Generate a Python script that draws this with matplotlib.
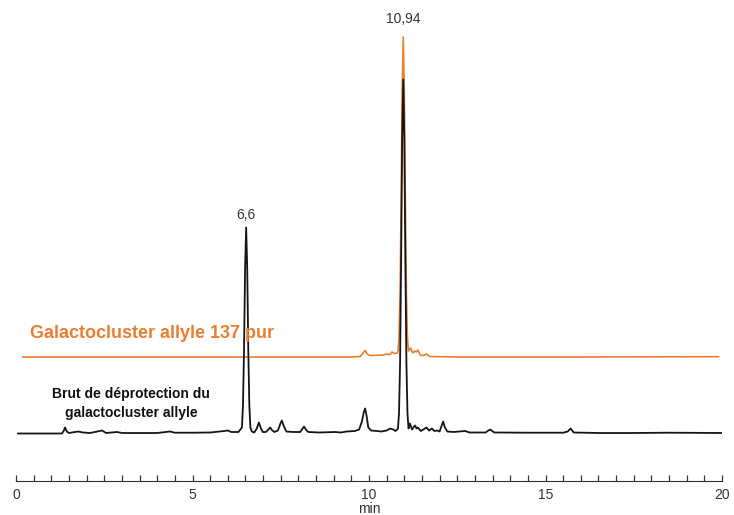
import numpy as np
import matplotlib
matplotlib.use("Agg")
import matplotlib.pyplot as plt

plt.rcParams["font.family"] = ["Liberation Sans", "DejaVu Sans"]

# Brut de déprotection (black trace): retention time (min), signal
brut_t = [0.06, 1.30, 1.35, 1.39, 1.44, 1.50, 1.76, 1.90, 2.10, 2.44, 2.55, 2.86, 3.00, 3.50, 4.00,
          4.36, 4.50, 5.00, 5.50, 5.90, 6.00, 6.10, 6.30,
          6.40, 6.43, 6.46, 6.49, 6.52, 6.55, 6.58, 6.61, 6.64, 6.68,
          6.75, 6.82, 6.88, 6.94, 6.99, 7.08, 7.15, 7.20, 7.26, 7.32, 7.42, 7.48, 7.53, 7.59, 7.66,
          7.85, 8.05, 8.11, 8.16, 8.21, 8.28, 8.60, 9.04, 9.20, 9.37, 9.60,
          9.72, 9.80, 9.85, 9.89, 9.93, 9.98, 10.06,
          10.22, 10.35, 10.50, 10.60, 10.69, 10.75, 10.80,
          10.82, 10.85, 10.88, 10.91, 10.94, 10.97, 11.00, 11.03, 11.06, 11.09, 11.12,
          11.16, 11.22, 11.30, 11.35, 11.38, 11.47, 11.63, 11.70, 11.78, 11.85,
          11.93, 12.00, 12.05, 12.10, 12.15, 12.22, 12.40, 12.72, 12.85, 13.30, 13.43, 13.55,
          14.50, 15.50, 15.63, 15.71, 15.80, 16.50, 17.50, 18.50, 19.99]
brut_y = [0.0, 0.0, 2.5, 6.0, 2.0, 0.5, 2.0, 1.0, 0.5, 3.0, 0.5, 1.5, 0.5, 0.5, 0.5,
          2.0, 0.8, 0.8, 1.0, 2.5, 3.0, 1.5, 1.5,
          6.0, 28.0, 85.0, 165.0, 206.0, 165.0, 85.0, 28.0, 6.0, 2.0,
          1.0, 5.0, 11.0, 5.0, 1.5, 1.5, 4.0, 6.0, 3.0, 1.5, 3.0, 9.0, 13.0, 7.0, 2.0,
          1.5, 1.5, 4.5, 7.0, 4.0, 1.5, 1.0, 1.5, 1.0, 2.0, 2.5,
          4.0, 12.0, 21.0, 25.0, 18.0, 6.0, 3.0,
          2.5, 2.0, 3.0, 5.0, 4.0, 2.5, 4.0,
          5.0, 20.0, 70.0, 172.0, 296.0, 354.0, 296.0, 172.0, 70.0, 20.0, 5.0,
          10.0, 4.0, 8.0, 5.0, 6.0, 2.5, 6.0, 3.0, 5.0, 2.5,
          3.0, 2.0, 7.0, 12.0, 6.0, 2.0, 1.5, 2.5, 1.0, 1.0, 4.0, 1.0,
          0.8, 0.8, 2.0, 5.0, 1.0, 0.5, 0.5, 0.8, 0.5]

# Galactocluster allyle 137 pur (orange trace)
pur_t = [0.19, 5.00, 9.50, 9.75, 9.82, 9.89, 9.95, 10.02, 10.10, 10.40, 10.50, 10.60, 10.65, 10.72, 10.80,
         10.82, 10.85, 10.88, 10.91, 10.94, 10.97, 11.00, 11.03, 11.06, 11.09, 11.12,
         11.18, 11.24, 11.30, 11.34, 11.38, 11.45, 11.55, 11.63, 11.72, 12.50, 16.00, 19.90]
pur_y = [0.0, 0.0, 0.0, 0.5, 3.5, 6.5, 3.0, 1.5, 1.5, 2.0, 3.0, 2.5, 5.0, 3.5, 4.0,
         5.0, 18.0, 63.0, 156.0, 267.0, 320.0, 267.0, 156.0, 63.0, 18.0, 6.0,
         9.0, 4.0, 6.0, 5.0, 7.0, 2.0, 1.5, 3.0, 0.5, 0.0, 0.0, 0.3]
pur_offset = 76.5

peak_labels = ["6,6", "10,94"]

orange = "#ED7D31"

fig = plt.figure(figsize=(7.34, 5.15), dpi=100)
ax = fig.add_axes([16 / 734, 34 / 515, 706 / 734, 481 / 515])

ax.plot(pur_t, np.array(pur_y) + pur_offset, color=orange, lw=1.2, zorder=2)
ax.plot(brut_t, brut_y, color="#151515", lw=1.3, zorder=3)

# peak labels above the apexes
i_brut = int(np.argmax(brut_y[:40]))
i_pur = int(np.argmax(pur_y))
ax.annotate(peak_labels[0], (brut_t[i_brut], brut_y[i_brut]), xytext=(0, 4),
            textcoords="offset points", ha="center", va="bottom", fontsize=10, color="#333333")
ax.annotate(peak_labels[1], (pur_t[i_pur], pur_y[i_pur] + pur_offset), xytext=(0, 8),
            textcoords="offset points", ha="center", va="bottom", fontsize=10, color="#333333")

ax.text(0.4, 100.5, "Galactocluster allyle 137 pur", color=orange, fontsize=13,
        fontweight="bold", ha="left", va="center")
ax.text(3.26, 30, "Brut de déprotection du\ngalactocluster allyle", color="#111111",
        fontsize=10, fontweight="bold", ha="center", va="center", linespacing=1.45)

ax.set_xlim(0, 20)
ax.set_ylim(-47.5, 433.5)
for s in ["top", "left", "right"]:
    ax.spines[s].set_visible(False)
ax.spines["bottom"].set_color("#333333")
ax.set_yticks([])
ax.set_xticks(np.arange(0, 21, 5))
ax.set_xticks(np.arange(0, 20.5, 0.5), minor=True)
ax.tick_params(axis="x", which="both", direction="in", length=4, width=0.9,
               color="#333333", labelsize=10, labelcolor="#333333", pad=5)
ax.set_xlabel("min", fontsize=10, color="#333333", labelpad=0)

fig.savefig("out.png", dpi=100)
